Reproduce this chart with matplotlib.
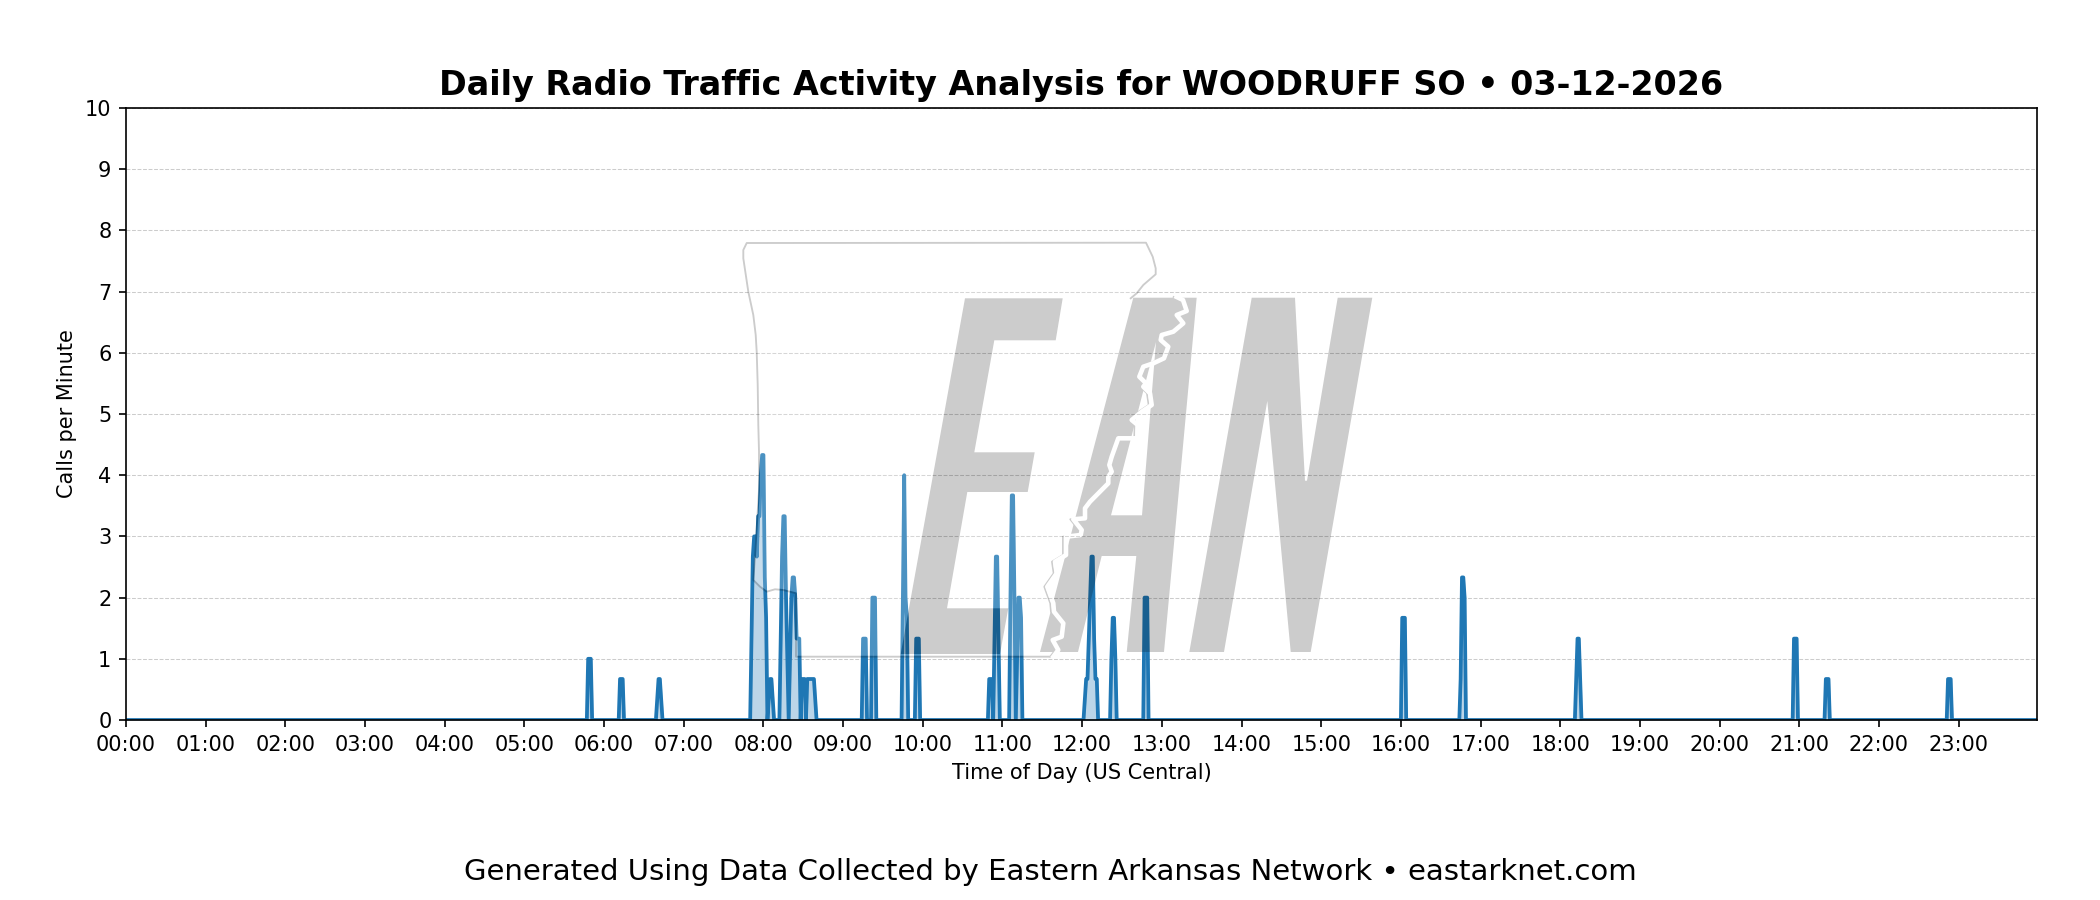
import numpy as np
import matplotlib
matplotlib.use("Agg")
import matplotlib.pyplot as plt
from matplotlib.figure import Figure
from matplotlib.backends.backend_agg import FigureCanvasAgg
from matplotlib.patches import Polygon

title = "Daily Radio Traffic Activity Analysis for WOODRUFF SO • 03-12-2026"
footer = "Generated Using Data Collected by Eastern Arkansas Network • eastarknet.com"
hour_labels = ["%02d:00" % h for h in range(24)]
y_ticks = list(range(11))

# minute of day -> calls per minute, everything else is zero
active_minutes = [
    348, 349, 350,
    372, 373, 374,
    400, 401, 402, 403,
    471, 472, 473, 474, 475, 476, 477, 478, 479, 480, 481, 482,
    484, 485, 486, 487,
    493, 494, 495, 496, 497, 498,
    500, 501, 502, 503, 504, 505, 506, 507,
    509, 510, 511,
    513, 514, 515, 516, 517, 518, 519,
    555, 556, 557,
    562, 563, 564,
    585, 586, 587, 588,
    595, 596, 597,
    650, 651, 652,
    654, 655, 656, 657,
    666, 667, 668, 669,
    671, 672, 673, 674,
    722, 723, 724, 725, 726, 727, 728, 729, 730, 731,
    742, 743, 744, 745,
    767, 768, 769,
    961, 962, 963,
    1005, 1006, 1007, 1008,
    1092, 1093, 1094, 1095,
    1256, 1257, 1258,
    1280, 1281, 1282,
    1372, 1373, 1374,
]
active_calls = [
    1.0, 1.0, 1.0,
    0.67, 0.67, 0.67,
    0.33, 0.67, 0.67, 0.33,
    1.33, 2.67, 3.0, 3.0, 2.67, 3.33, 3.33, 4.0, 4.33, 4.33, 2.33, 1.67,
    0.33, 0.67, 0.67, 0.33,
    1.33, 2.67, 3.33, 3.33, 2.0, 1.0,
    1.0, 2.0, 2.33, 2.33, 2.0, 1.33, 1.33, 1.33,
    0.67, 0.67, 0.67,
    0.67, 0.67, 0.67, 0.67, 0.67, 0.67, 0.33,
    1.33, 1.33, 1.33,
    2.0, 2.0, 2.0,
    2.0, 4.0, 2.0, 1.67,
    1.33, 1.33, 1.33,
    0.67, 0.67, 0.67,
    1.33, 2.67, 2.67, 1.33,
    2.0, 3.67, 3.67, 2.0,
    1.0, 2.0, 2.0, 1.67,
    0.33, 0.67, 0.67, 1.33, 2.0, 2.67, 2.67, 1.33, 0.67, 0.67,
    1.0, 1.67, 1.67, 1.0,
    2.0, 2.0, 2.0,
    1.67, 1.67, 1.67,
    0.67, 2.33, 2.33, 2.0,
    0.67, 1.33, 1.33, 0.67,
    1.33, 1.33, 1.33,
    0.67, 0.67, 0.67,
    0.67, 0.67, 0.67,
]

# logo outlines, in figure pixels
state_west = [(1130.7, 298.3), (1136.7, 293.3), (1143.3, 285), (1155.7, 274.3), (1155.7, 268.3),
              (1152.7, 256.7), (1146, 242.7), (746.7, 243), (743.3, 250), (743.3, 258.3),
              (748.3, 291.7), (753.3, 315), (755.7, 335), (756.7, 352), (757.7, 385), (758.3, 425),
              (759, 451.7), (759, 490), (755, 556.7),
              (753.3, 580), (760, 586.7), (766.7, 591.7), (775, 589.3), (783.3, 590),
              (796, 593.3), (796, 656.7), (1053.3, 656.7)]
river = [(1053.3, 656.7), (1058.3, 650), (1052.7, 640), (1061.7, 636.7), (1063.3, 623.3), (1054, 611.7),
         (1053.3, 603.3), (1047.3, 586.7), (1056.7, 573.3), (1055, 561.7), (1066, 555), (1066, 536.7),
         (1080.7, 535), (1081.7, 530), (1073.3, 519.3), (1085, 518.3), (1085, 508.3), (1090, 501.7),
         (1108.3, 483.3), (1108.3, 476.7), (1111.7, 471.7), (1109.3, 465), (1111.7, 456.7), (1118.3, 438.3),
         (1137.3, 438.3), (1137.7, 425), (1131.7, 420), (1141.7, 411.7), (1151.7, 405), (1150, 393.3),
         (1143.3, 386.7), (1146, 383.3), (1139.3, 376.7), (1143.3, 366.7), (1153.3, 363.3), (1164, 358.3),
         (1168.3, 346.7), (1160.7, 340), (1161.7, 335), (1173.3, 331.7), (1183.3, 323.3), (1176.7, 315),
         (1186.7, 311), (1183, 300), (1176.7, 297)]
letter_e = [(965, 298.3), (1062.7, 298.3), (1055.7, 340.3), (994.3, 340.3), (974.3, 452.3), (1034.7, 452.3),
            (1027.7, 492), (967.3, 492), (947, 608.3), (1008.3, 608.3), (1000, 654), (900.7, 654)]
letter_a = [(1133.3, 297.7), (1196.7, 297.7), (1164, 652), (1126.7, 652), (1136.3, 556), (1101.7, 556),
            (1078, 652), (1040, 652)]
letter_a_hole = [(1111, 515.3), (1142, 515.3), (1156, 342)]
letter_n = [(1251.7, 297.7), (1295, 297.7), (1305, 480.7), (1307, 480.7), (1337.7, 297.7), (1372.3, 297.7),
            (1310.7, 652), (1290.7, 652), (1267.3, 401), (1224, 652), (1189.3, 652)]

calls = np.zeros(1440)
calls[active_minutes] = active_calls
minutes = np.arange(1440)


def make_logo():
    # drawn on its own first, then laid over the chart in one go
    logo_fig = Figure(figsize=(14, 6), dpi=150)
    logo_fig.patch.set_alpha(0)
    canvas = FigureCanvasAgg(logo_fig)
    ax = logo_fig.add_axes([0, 0, 1, 1])
    ax.set_xlim(0, 2100)
    ax.set_ylim(900, 0)
    ax.axis("off")
    ax.add_patch(Polygon(state_west + river[1:], closed=True, fc="white", ec="none"))
    for letter in [letter_e, letter_a, letter_n]:
        ax.add_patch(Polygon(letter, closed=True, fc="black", ec="none"))
    ax.add_patch(Polygon(letter_a_hole, closed=True, fc="white", ec="none"))
    rx = np.array(river)
    sx = np.array(state_west)
    ax.plot(sx[:, 0], sx[:, 1], color="black", lw=0.9)
    ax.plot(rx[:, 0] - 3, rx[:, 1], color="black", lw=0.9)
    ax.plot(rx[:, 0], rx[:, 1], color="white", lw=2.2, solid_joinstyle="round")
    canvas.draw()
    return np.asarray(canvas.buffer_rgba()).copy()


fig, ax = plt.subplots(figsize=(14, 6), dpi=150)
fig.subplots_adjust(left=126 / 2100, right=2037 / 2100, top=1 - 108 / 900, bottom=1 - 720 / 900)

ax.plot(minutes, calls, color="tab:blue", lw=1.8)
ax.fill_between(minutes, calls, color="tab:blue", alpha=0.3)

ax.set_xlim(0, 1439)
ax.set_ylim(0, 10)
ax.set_xticks(np.arange(24) * 60)
ax.set_xticklabels(hour_labels)
ax.set_yticks(y_ticks)
ax.tick_params(labelsize=10)
ax.grid(axis="y", ls="--", lw=0.5, color="gray", alpha=0.4)
ax.set_axisbelow(True)
ax.set_xlabel("Time of Day (US Central)", fontsize=10)
ax.set_ylabel("Calls per Minute", fontsize=10)
ax.set_title(title, fontsize=16, fontweight="bold", pad=6)
fig.text(0.5, 1 - 871.5 / 900, footer, ha="center", va="center", fontsize=14)

fig.figimage(make_logo(), alpha=0.2, zorder=5)

fig.savefig("out.png", dpi=150)
